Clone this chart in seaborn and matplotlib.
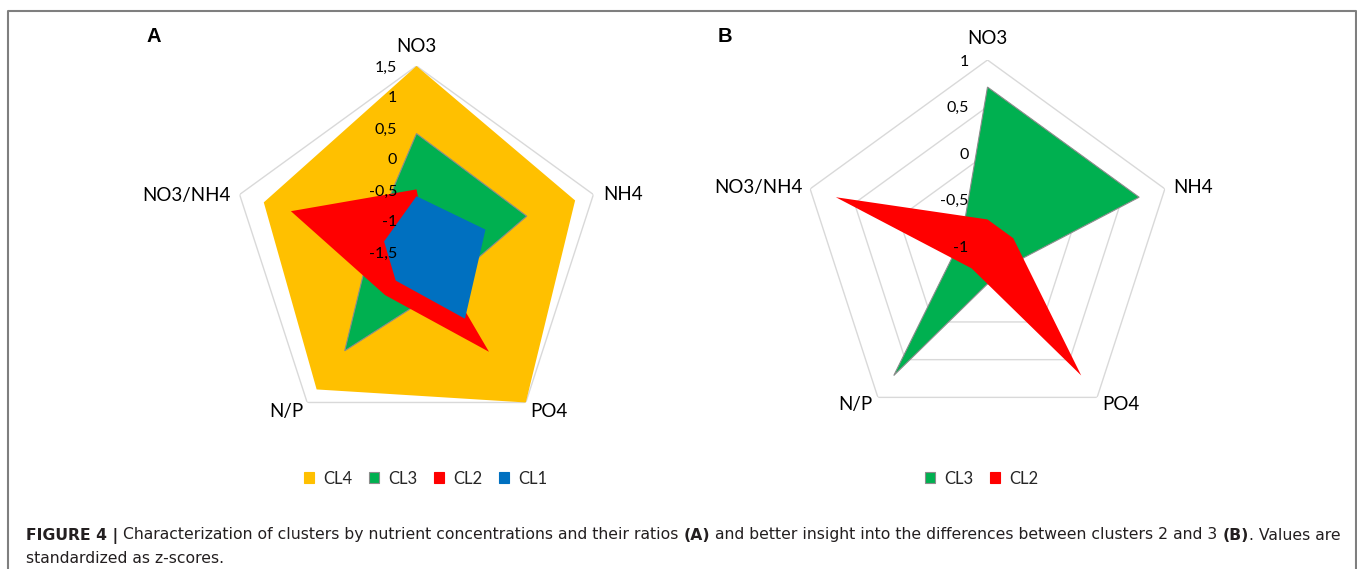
import numpy as np
import matplotlib
matplotlib.use("Agg")
import matplotlib.pyplot as plt
from matplotlib.patches import Patch
from matplotlib.lines import Line2D
import seaborn as sns

# ---- data -------------------------------------------------------------
categories = ["NO3", "NH4", "PO4", "N/P", "NO3/NH4"]

# Panel A: standardized nutrient values for the four clusters
cl4_a = [1.50, 1.19, 1.50, 1.24, 1.09]
cl3_a = [0.41, 0.37, -0.78, 0.47, -0.75]
cl2_a = [-0.49, -1.30, 0.49, -0.64, 0.63]
cl1_a = [-0.60, -0.33, -0.17, -0.93, -0.95]

# Panel B: clusters 2 and 3 standardized against each other
cl3_b = [0.71, 0.71, -0.71, 0.71, -0.71]
cl2_b = [-0.71, -0.71, 0.71, -0.71, 0.71]

ticks_a = [-1.5, -1, -0.5, 0, 0.5, 1, 1.5]
ticks_b = [-1, -0.5, 0, 0.5, 1]

palette = dict(zip(["CL4", "CL3", "CL2", "CL1"],
                   sns.color_palette(["#FFC000", "#00B050", "#FF0000", "#0070C0"])))

# ---- style ------------------------------------------------------------
sns.set_theme(style="white")
plt.rcParams["font.family"] = ["Lato", "DejaVu Sans"]

W, H = 1357, 569
fig = plt.figure(figsize=(W / 100, H / 100), dpi=100)
fig.patch.set_facecolor("white")

theta = np.arange(len(categories)) * 2 * np.pi / len(categories)
theta_closed = np.append(theta, 2 * np.pi)
GRID = "#d9d9d9"
EDGE_CL3 = "#8c8c8c"


def fmt(v):
    return f"{v:g}".replace(".", ",")


def radar_axes(cx, cy, R, ticks):
    ax = fig.add_axes([(cx - R) / W, 1 - (cy + R) / H, 2 * R / W, 2 * R / H],
                      projection="polar")
    ax.set_theta_offset(np.pi / 2)
    ax.set_theta_direction(-1)
    ax.set_ylim(ticks[0], ticks[-1])
    ax.grid(False)
    ax.set_xticks([])
    ax.set_yticks([])
    ax.spines["polar"].set_visible(False)
    ax.patch.set_alpha(0)
    # pentagonal gridlines at each major tick
    for v in ticks[1:]:
        sns.lineplot(x=theta_closed, y=[v] * len(theta_closed), ax=ax,
                     color=GRID, lw=1.0, sort=False, estimator=None,
                     legend=False, zorder=1)
    ax.set_xlabel("")
    ax.set_ylabel("")
    return ax


def add_series(ax, series):
    for i, (name, vals) in enumerate(series):
        edge = EDGE_CL3 if name == "CL3" else "none"
        ax.fill(theta, vals, facecolor=palette[name], edgecolor=edge,
                lw=0.8 if name == "CL3" else 0, zorder=2 + i)


def add_tick_labels(ax, ticks, dx):
    for v in ticks:
        ax.annotate(fmt(v), xy=(0, v), xytext=(dx, -1.5), textcoords="offset pixels",
                    ha="right", va="center", fontsize=11.5, color="black", zorder=20)


def add_category_labels(ax, rmax, offsets):
    for th, name, (dx, dy, ha) in zip(theta, categories, offsets):
        ax.annotate(name, xy=(th, rmax), xytext=(dx, dy), textcoords="offset pixels",
                    ha=ha, va="center", fontsize=13.5, color="black", zorder=20)


def add_legend(names, cx, cy):
    handles = [Patch(facecolor=palette[n],
                     edgecolor=EDGE_CL3 if n == "CL3" else palette[n], lw=0.8)
               for n in names]
    fig.legend(handles, names, loc="center", bbox_to_anchor=(cx / W, 1 - cy / H),
               ncol=len(names), frameon=False, fontsize=12,
               handlelength=0.6, handleheight=0.6, handletextpad=0.55,
               columnspacing=1.0, borderpad=0, borderaxespad=0)


# ---- panel A ----------------------------------------------------------
ax_a = radar_axes(416.5, 252, 186, ticks_a)
add_series(ax_a, [("CL4", cl4_a), ("CL3", cl3_a), ("CL2", cl2_a), ("CL1", cl1_a)])
add_tick_labels(ax_a, ticks_a, -19.5)
add_category_labels(ax_a, ticks_a[-1], [(0, 20, "center"), (10, 0, "left"),
                                        (4, -9, "left"), (-4, -9, "right"),
                                        (-9, -1, "right")])
add_legend(["CL4", "CL3", "CL2", "CL1"], 425.5, 478.5)

# ---- panel B ----------------------------------------------------------
ax_b = radar_axes(987.5, 246.5, 186.5, ticks_b)
add_series(ax_b, [("CL3", cl3_b), ("CL2", cl2_b)])
add_tick_labels(ax_b, ticks_b, -19)
add_category_labels(ax_b, ticks_b[-1], [(0, 21, "center"), (8, 1.5, "left"),
                                        (5, -7.5, "left"), (-5, -7.5, "right"),
                                        (-8, 1.5, "right")])
add_legend(["CL3", "CL2"], 981.5, 478.5)

# ---- panel letters ----------------------------------------------------
for letter, x in [("A", 154), ("B", 725)]:
    fig.text(x / W, 1 - 36.5 / H, letter, fontsize=14.5, fontweight="bold",
             family="Liberation Sans", ha="center", va="center", color="black")

# ---- frame around the figure ------------------------------------------
fig.add_artist(Line2D([8 / W, 8 / W, 1355.5 / W, 1355.5 / W],
                      [0, 1 - 11 / H, 1 - 11 / H, 0],
                      transform=fig.transFigure, color="#7f7f7f", lw=1.5))

# ---- caption ----------------------------------------------------------
renderer = fig.canvas.get_renderer()


def caption_line(pieces, x0, y_base, size=11.25):
    x = x0
    for s, weight in pieces:
        t = fig.text(x / W, 1 - y_base / H, s, fontsize=size, fontweight=weight,
                     family="DejaVu Sans", color="#231f20",
                     ha="left", va="baseline")
        x = t.get_window_extent(renderer).x1


caption_line([("FIGURE 4 |", "bold"),
              (" Characterization of clusters by nutrient concentrations and their ratios ", "normal"),
              ("(A)", "bold"),
              (" and better insight into the differences between clusters 2 and 3 ", "normal"),
              ("(B)", "bold"),
              (". Values are", "normal")], 26, 539.5)
caption_line([("standardized as z-scores.", "normal")], 26, 563)

fig.savefig("out.png", dpi=100, facecolor="white")
